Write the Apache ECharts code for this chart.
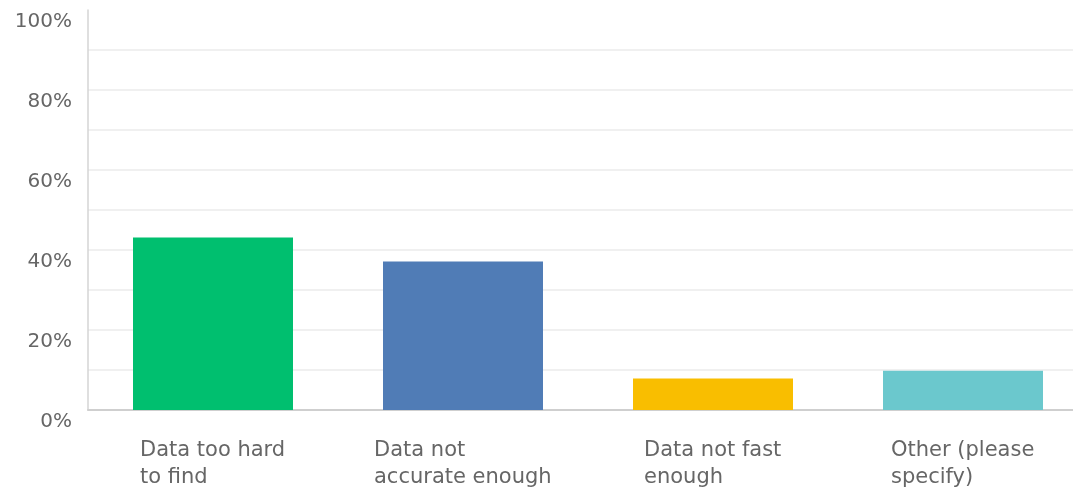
<!DOCTYPE html>
<html>
<head>
<meta charset="utf-8">
<script src="https://cdn.jsdelivr.net/npm/echarts@6/dist/echarts.min.js"></script>
<style>
  html, body { margin: 0; padding: 0; background: #fff; overflow: hidden; }
  /* the plot runs a little past the right edge of the window, as in the source */
  #chart { width: 1088px; height: 489px; }
</style>
</head>
<body>
<div id="chart"></div>
<script>
  // answer choices and share of respondents (%)
  var categories = ['Data too hard\nto find', 'Data not\naccurate enough', 'Data not fast\nenough', 'Other (please\nspecify)'];
  var values = [43.1, 37.1, 7.9, 9.8];
  var colors = ['#00BF6F', '#507CB6', '#F9BE00', '#6BC8CD'];

  var fontName = 'DejaVu Sans';
  var labelFont = '21px "DejaVu Sans"';

  // width of the longest line, so the block is centred but lines stay left aligned
  var ctx = document.createElement('canvas').getContext('2d');
  ctx.font = labelFont;
  function blockWidth(text) {
    var w = 0;
    text.split('\n').forEach(function (line) {
      w = Math.max(w, ctx.measureText(line).width);
    });
    return Math.ceil(w);
  }

  var rich = {};
  categories.forEach(function (c, i) {
    rich['c' + i] = { width: blockWidth(c), align: 'left', fontFamily: fontName, fontSize: 21, lineHeight: 27, color: '#666666' };
  });

  var myChart = echarts.init(document.getElementById('chart'));
  var option = {
    animation: false,
    grid: { left: 88, top: 10, right: 0, bottom: 79 },
    xAxis: {
      type: 'category',
      data: categories,
      axisLine: { lineStyle: { color: '#cfcfcf', width: 2 } },
      axisTick: { show: false },
      axisLabel: {
        margin: 27,
        interval: 0,
        formatter: function (value, idx) {
          return value.split('\n').map(function (line) {
            return '{c' + idx + '|' + line + '}';
          }).join('\n');
        },
        rich: rich
      }
    },
    yAxis: {
      type: 'value',
      min: 0,
      max: 100,
      interval: 10,
      axisLine: { show: true, lineStyle: { color: '#d4d4d4', width: 1.5 } },
      axisTick: { show: false },
      splitLine: { showMinLine: false, showMaxLine: false, lineStyle: { color: '#ebebeb', width: 1.5 } },
      axisLabel: {
        margin: 16,
        verticalAlign: 'top',
        padding: [2, 0, 0, 0],
        color: '#666666',
        fontFamily: fontName,
        fontSize: 20,
        formatter: function (v) {
          return v % 20 === 0 ? v + '%' : '';
        }
      }
    },
    series: [{
      type: 'bar',
      barWidth: 160,
      data: values.map(function (v, i) {
        return { value: v, itemStyle: { color: colors[i] } };
      })
    }]
  };
  myChart.setOption(option);
</script>
</body>
</html>
